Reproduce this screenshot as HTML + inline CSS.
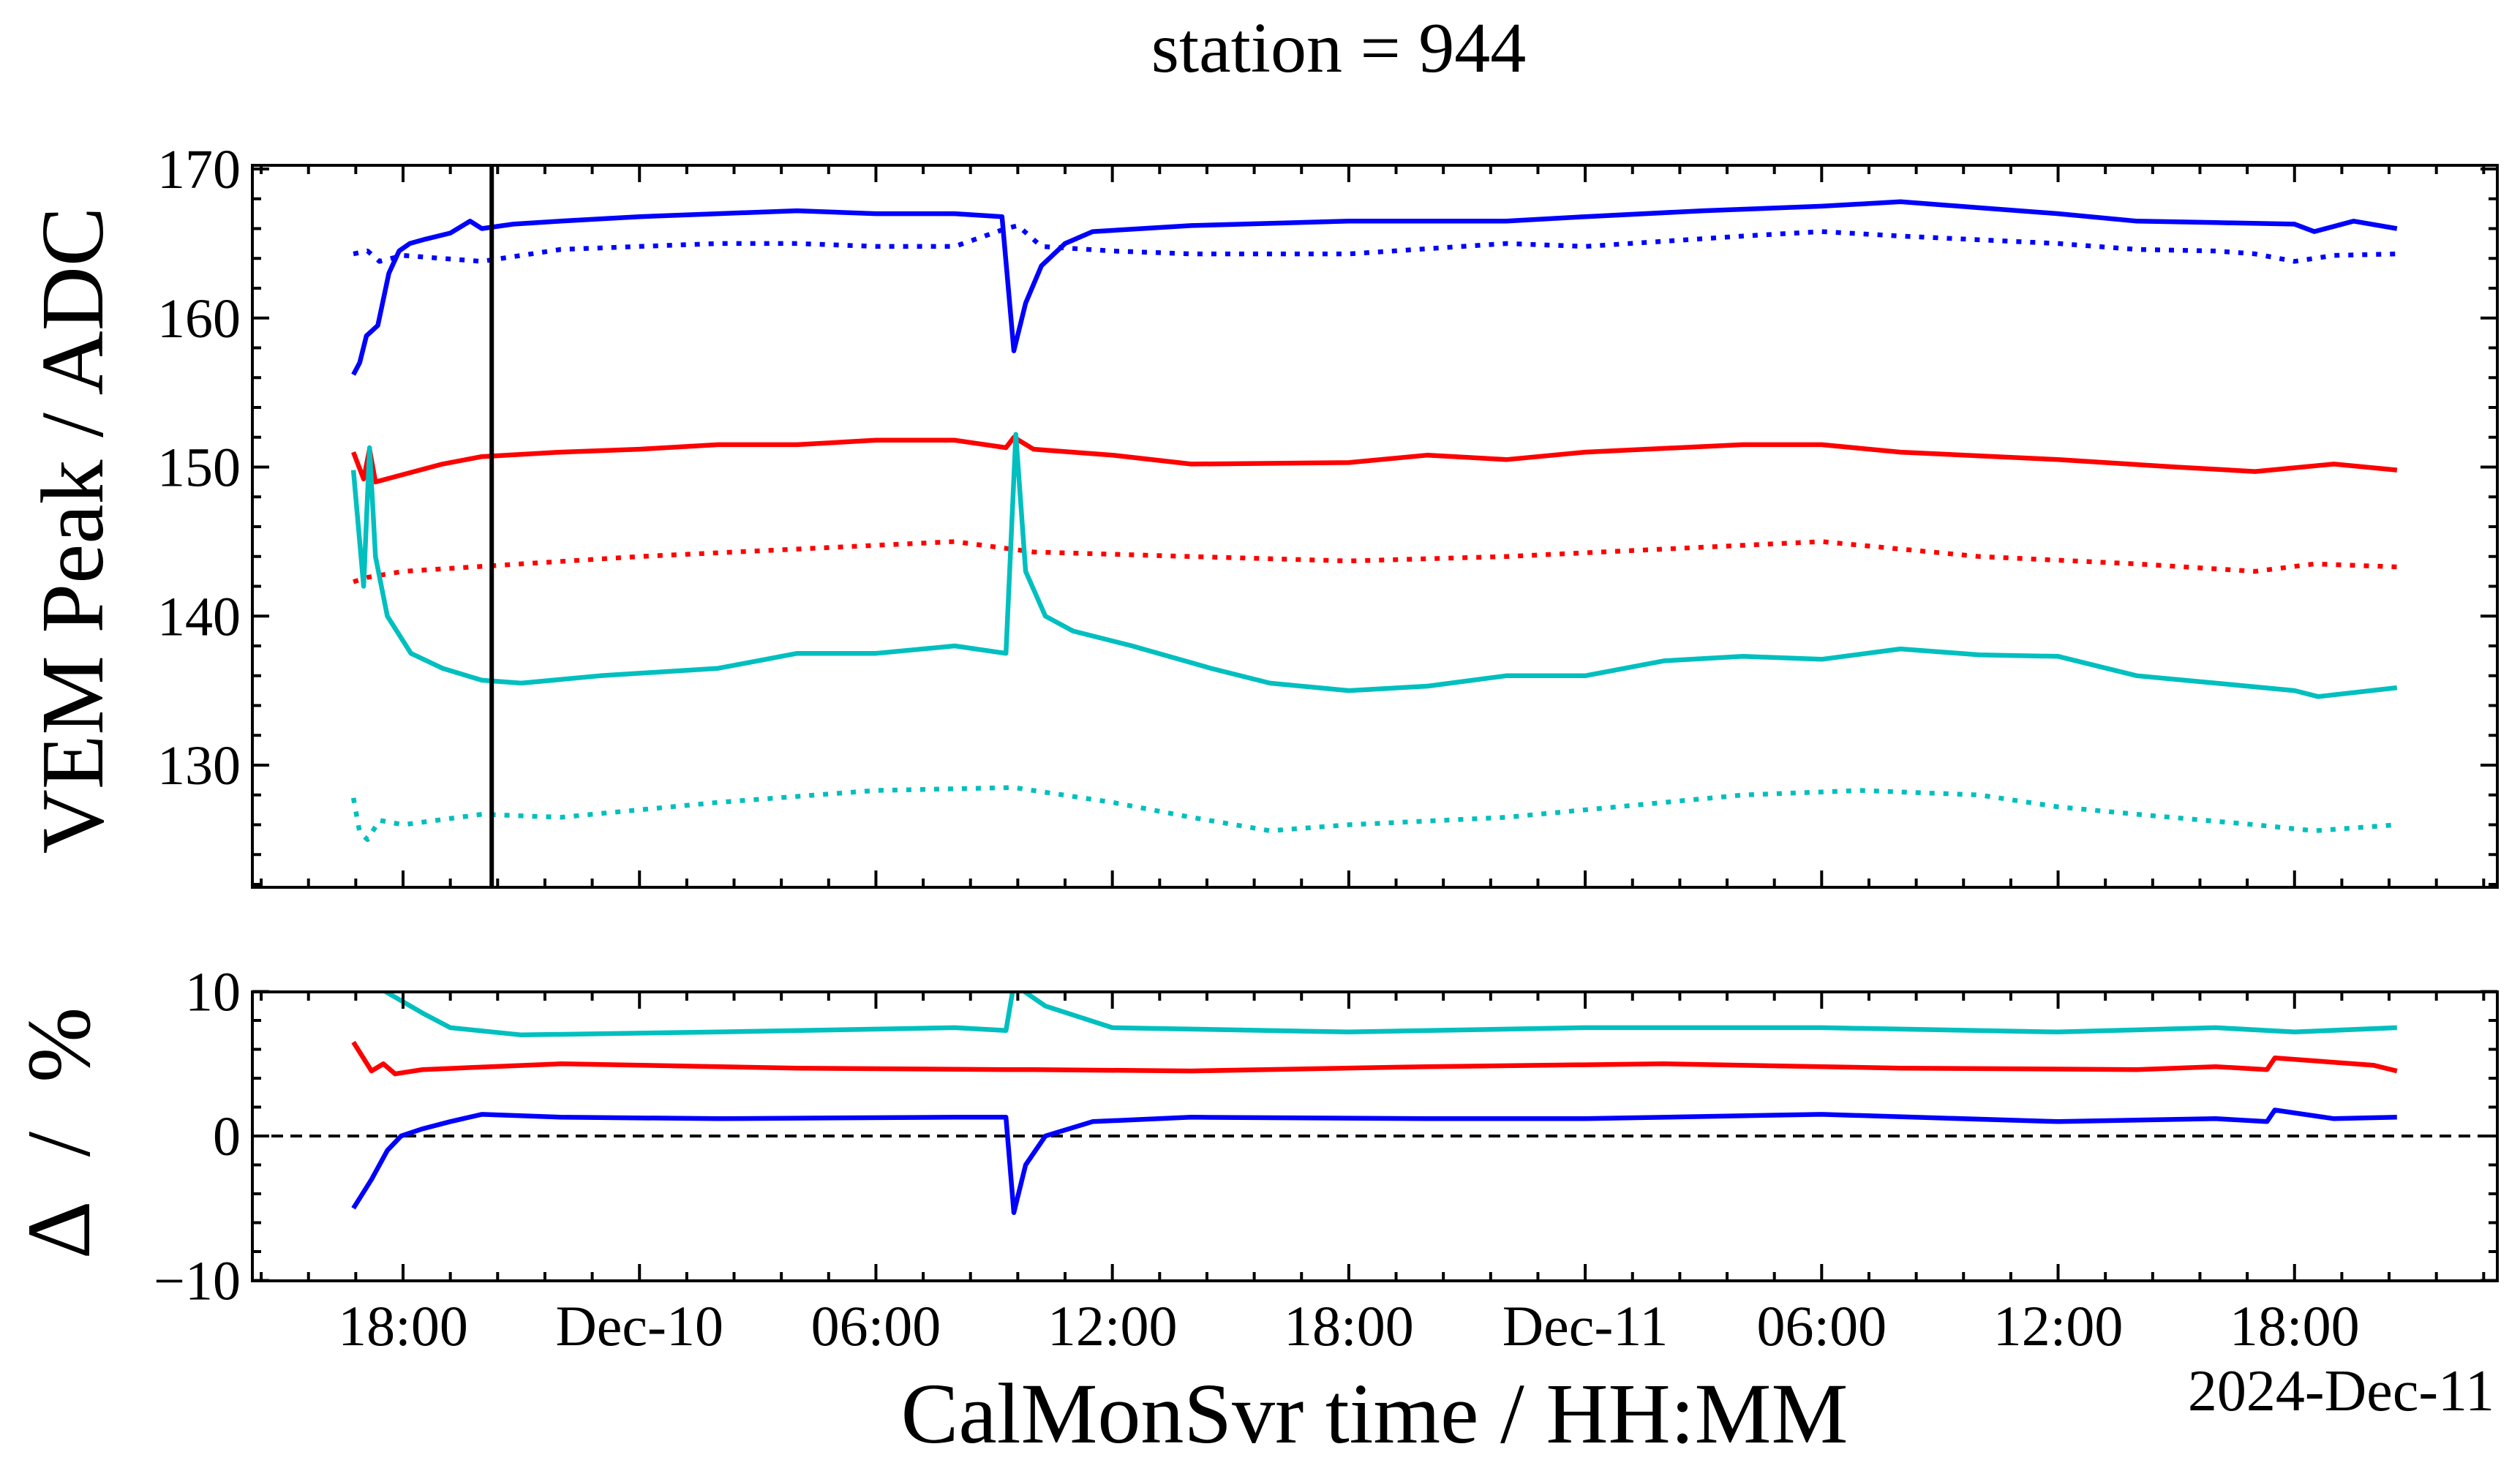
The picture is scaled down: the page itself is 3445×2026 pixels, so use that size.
<!DOCTYPE html>
<html><head><meta charset="utf-8">
<style>
html,body{margin:0;padding:0;background:#fff;}
svg{display:block;font-family:"Liberation Serif",serif;}
</style></head>
<body>
<svg id="chart" width="3445" height="2026" viewBox="0 0 3445 2026" xmlns="http://www.w3.org/2000/svg">
<defs>
<clipPath id="clipTop"><rect x="345" y="226" width="3069" height="987"/></clipPath>
<clipPath id="clipBot"><rect x="345" y="1356" width="3069" height="395"/></clipPath>
</defs>
<text x="1830" y="98" font-size="98" text-anchor="middle">station = 944</text>
<g id="topPanel"></g>
<g id="botPanel"></g>
<text transform="translate(140,725) rotate(-90)" font-size="122" text-anchor="middle">VEM Peak / ADC</text>
<text transform="translate(122,1540) rotate(-90)" font-size="124" letter-spacing="18" text-anchor="middle">Δ / %</text>
<text x="1879" y="1972" font-size="118" text-anchor="middle">CalMonSvr time / HH:MM</text>
<text x="3410" y="1928" font-size="80" text-anchor="end">2024-Dec-11</text>
</svg>
<script>
// hours relative to 2024-Dec-09 18:00
const xTickHours = [0, 6, 12, 18, 24, 30, 36, 42, 48];
const xTickLabels = ["18:00", "Dec-10", "06:00", "12:00", "18:00", "Dec-11", "06:00", "12:00", "18:00"];
const yTopTicks = [130, 140, 150, 160, 170];
const yBotTicks = [-10, 0, 10];
const markerLineHour = 2.25;

const blueSolidT = [-1.26,-1.1,-0.93,-0.64,-0.36,-0.1,0.17,0.58,1.2,1.7,2.0,2.8,4,6,8,10,12,14,15.2,15.5,15.8,16.2,16.8,17.5,20,24,28,30,33,36,38,40,42,44,46,48,48.5,49.5,50.6];
const blueSolidV = [156.2,157,158.8,159.5,163,164.5,165,165.3,165.7,166.5,166.0,166.3,166.5,166.8,167,167.2,167,167,166.8,157.8,161,163.5,165,165.8,166.2,166.5,166.5,166.8,167.2,167.5,167.8,167.4,167,166.5,166.4,166.3,165.8,166.5,166];
const blueDotT = [-1.26,-0.9,-0.6,0,1,2,3,4,6,8,10,12,14,15.3,15.6,16.2,18,20,24,28,30,34,36,38,42,44,46,47,48,49,50.6];
const blueDotV = [164.3,164.5,163.8,164.2,164,163.8,164.2,164.6,164.8,165,165,164.8,164.8,166,166.2,164.8,164.5,164.3,164.3,165,164.8,165.5,165.8,165.5,165,164.6,164.5,164.3,163.8,164.2,164.3];
const redSolidT = [-1.26,-1.0,-0.85,-0.7,0,1,2,4,6,8,10,12,14,15.3,15.5,16,18,20,24,26,28,30,34,36,38,42,45,47,49,50.6];
const redSolidV = [151,149.2,151.2,149,149.5,150.2,150.7,151,151.2,151.5,151.5,151.8,151.8,151.3,152,151.2,150.8,150.2,150.3,150.8,150.5,151,151.5,151.5,151,150.5,150,149.7,150.2,149.8];
const redDotT = [-1.26,-0.9,0,3,6,10,14,16,20,24,28,32,36,40,44,47,48.5,50.6];
const redDotV = [142.3,142.6,143,143.5,144,144.5,145,144.3,144,143.7,144,144.5,145,144,143.5,143,143.5,143.3];
const cyanSolidT = [-1.26,-1.0,-0.85,-0.7,-0.4,0.2,1,2,3,5,8,10,12,14,15.3,15.55,15.8,16.3,17,18.5,20.5,22,24,26,28,30,32,34,36,38,40,42,44,46,48,48.6,50.6];
const cyanSolidV = [149.8,142,151.3,144,140,137.5,136.5,135.7,135.5,136,136.5,137.5,137.5,138,137.5,152.2,143,140,139,138,136.5,135.5,135,135.3,136,136,137,137.3,137.1,137.8,137.4,137.3,136,135.5,135,134.6,135.2];
const cyanDotT = [-1.26,-1.1,-0.9,-0.6,0,2,4,8,12,15.5,18,20,22,24,28,30,34,37,40,42,44,47,48.5,50.6];
const cyanDotV = [127.8,125.5,125,126.3,126,126.7,126.5,127.5,128.3,128.5,127.5,126.5,125.6,126,126.5,127,128,128.3,128,127.2,126.7,126,125.6,126];
const dBlueT = [-1.26,-0.8,-0.4,-0.05,0.5,1.2,2,4,8,14,15.3,15.5,15.8,16.3,17.5,20,26,30,36,42,46,47.3,47.5,49,50.6];
const dBlueV = [-5,-3,-1,0,0.5,1,1.5,1.3,1.2,1.3,1.3,-5.3,-2,0,1,1.3,1.2,1.2,1.5,1.0,1.2,1.0,1.8,1.2,1.3];
const dRedT = [-1.26,-0.8,-0.5,-0.2,0.5,4,10,15.3,16,20,26,32,38,44,46,47.3,47.5,50,50.6];
const dRedV = [6.5,4.5,5,4.3,4.6,5.0,4.7,4.6,4.6,4.5,4.8,5.0,4.7,4.6,4.8,4.6,5.4,4.9,4.5];
const dCyanT = [-0.5,-0.45,0.5,1.2,3,8,14,15.3,15.5,16.3,18,24,30,36,42,46,48,50.6];
const dCyanV = [11,10,8.5,7.5,7,7.2,7.5,7.3,10.5,9,7.5,7.2,7.5,7.5,7.2,7.5,7.2,7.5];

const NS = "http://www.w3.org/2000/svg";
const L = 345, R = 3414, T1 = 226, B1 = 1213, T2 = 1356, B2 = 1751;
const xOf = h => 551 + h * 53.87;
const yTop = v => 231 + (170 - v) * 20.375;
const yBot = v => 1553 - v * 19.75;
function mk(tag, attrs, parent) { const e = document.createElementNS(NS, tag); for (const k in attrs) e.setAttribute(k, attrs[k]); parent.appendChild(e); return e; }
const topG = document.getElementById('topPanel'), botG = document.getElementById('botPanel');

function path(ts, vs, yf) { return ts.map((t, i) => (i ? 'L' : 'M') + xOf(t).toFixed(1) + ',' + yf(vs[i]).toFixed(1)).join(' '); }
function series(parent, clip, ts, vs, yf, color, dotted, name) {
  const p = mk('path', {d: path(ts, vs, yf), fill: 'none', stroke: color, 'stroke-width': 6.5, 'stroke-linejoin': 'round', 'clip-path': 'url(#' + clip + ')'}, parent);
  if (dotted) p.setAttribute('stroke-dasharray', '7 12');
  
  
}
series(topG, 'clipTop', blueSolidT, blueSolidV, yTop, '#0000ff', false, 'series-blue-solid');
series(topG, 'clipTop', blueDotT, blueDotV, yTop, '#0000ff', true, 'series-blue-dotted');
series(topG, 'clipTop', redSolidT, redSolidV, yTop, '#ff0000', false, 'series-red-solid');
series(topG, 'clipTop', redDotT, redDotV, yTop, '#ff0000', true, 'series-red-dotted');
series(topG, 'clipTop', cyanSolidT, cyanSolidV, yTop, '#00bfbf', false, 'series-cyan-solid');
series(topG, 'clipTop', cyanDotT, cyanDotV, yTop, '#00bfbf', true, 'series-cyan-dotted');
const vl = mk('line', {x1: xOf(markerLineHour), x2: xOf(markerLineHour), y1: T1, y2: B1, stroke: '#000', 'stroke-width': 6}, topG);



const zl = mk('line', {x1: L, x2: R, y1: yBot(0), y2: yBot(0), stroke: '#000', 'stroke-width': 4, 'stroke-dasharray': '16 10'}, botG);


series(botG, 'clipBot', dCyanT, dCyanV, yBot, '#00bfbf', false, 'delta-cyan');
series(botG, 'clipBot', dRedT, dRedV, yBot, '#ff0000', false, 'delta-red');
series(botG, 'clipBot', dBlueT, dBlueV, yBot, '#0000ff', false, 'delta-blue');

function frame(parent, T, B, yf, yTicks, yMinStep, yMin, yMax, labels, nm) {
  const f = mk('rect', {x: L, y: T, width: R - L, height: B - T, fill: 'none', stroke: '#000', 'stroke-width': 4}, parent);
  
  
  const g = mk('g', {stroke: '#000', 'stroke-width': 4}, parent);
  for (let k = -3; k <= 44; k++) {
    const h = k * 1.2;
    const x = xOf(h); if (x < L + 2 || x > R - 2) continue;
    const maj = k % 5 === 0;
    const len = maj ? 23 : 12;
    mk('line', {x1: x, x2: x, y1: B, y2: B - len}, g);
    mk('line', {x1: x, x2: x, y1: T, y2: T + len}, g);
  }
  for (let v = yMin; v <= yMax + 0.001; v += yMinStep) {
    const y = yf(v); if (y < T - 1 || y > B + 1) continue;
    const maj = yTicks.some(t => Math.abs(t - v) < 0.01);
    const len = maj ? 23 : 12;
    mk('line', {x1: L, x2: L + len, y1: y, y2: y}, g);
    mk('line', {x1: R, x2: R - len, y1: y, y2: y}, g);
  }
  yTicks.forEach(v => {
    const t = mk('text', {x: L - 16, y: yf(v) + 26, 'font-size': 76, 'text-anchor': 'end'}, parent);
    t.textContent = v < 0 ? '\u2212' + Math.abs(v) : String(v);
    
    
  });
  if (labels) xTickHours.forEach((h, i) => {
    const t = mk('text', {x: xOf(h), y: B + 88, 'font-size': 78, 'text-anchor': 'middle'}, parent);
    t.textContent = xTickLabels[i];
    
    
  });
}
frame(topG, T1, B1, yTop, yTopTicks, 2, 122, 170, false, 'top');
frame(botG, T2, B2, yBot, yBotTicks, 2, -10, 10, true, 'bottom');
</script>
</body></html>
